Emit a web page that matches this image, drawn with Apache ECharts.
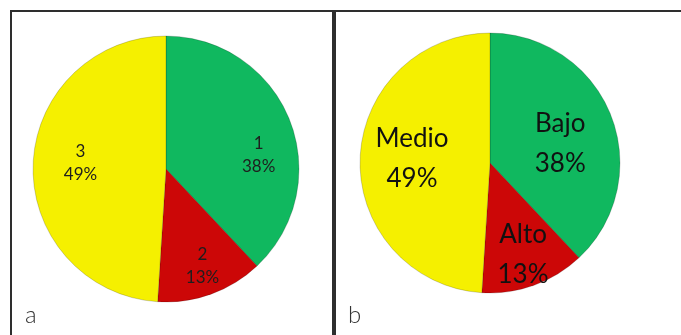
<!DOCTYPE html>
<html>
<head>
<meta charset="utf-8">
<script src="https://cdn.jsdelivr.net/npm/echarts@6/dist/echarts.min.js"></script>
<style>
  html, body { margin: 0; padding: 0; background: #fff; }
  #main { width: 681px; height: 335px; }
</style>
</head>
<body>
<div id="main"></div>
<script>
  // datos
  var namesA = ['1', '2', '3'];
  var namesB = ['Bajo', 'Alto', 'Medio'];
  var shares = [38, 13, 49];
  var colors = ['#10b85f', '#cc0707', '#f5f000'];

  // desplazamiento de las etiquetas respecto a la posición "inside"
  var offsA = [[28, 12], [13, 32], [-16, -4]];
  var offsB = [[7, 6], [10, 28], [-10, -2]];

  function buildData(names) {
    return names.map(function (n, i) {
      return { name: n, value: shares[i], itemStyle: { color: colors[i] } };
    });
  }

  var myChart = echarts.init(document.getElementById('main'), null, { renderer: 'canvas' });

  var option = {
    animation: false,
    backgroundColor: '#fff',
    title: [
      {
        text: 'a', left: 20, top: 298,
        textStyle: { fontFamily: 'Lato', fontWeight: 300, fontSize: 24, color: '#333' }
      },
      {
        text: 'b', left: 343, top: 298,
        textStyle: { fontFamily: 'Lato', fontWeight: 300, fontSize: 24, color: '#333' }
      }
    ],
    graphic: [
      {
        type: 'rect', shape: { x: 11, y: 11, width: 322, height: 340 },
        style: { fill: 'none', stroke: '#2e2e2e', lineWidth: 2 }, z: 10
      },
      {
        type: 'rect', shape: { x: 335, y: 11, width: 360, height: 340 },
        style: { fill: 'none', stroke: '#2e2e2e', lineWidth: 2 }, z: 10
      }
    ],
    series: [
      {
        name: 'a',
        type: 'pie',
        center: [166, 169],
        radius: [0, 133],
        startAngle: 90,
        clockwise: true,
        silent: true,
        itemStyle: { borderColor: 'rgba(0,0,0,0.18)', borderWidth: 1 },
        label: {
          show: true,
          position: 'inside',
          formatter: '{b}\n{c}%',
          fontFamily: 'Lato',
          fontSize: 17,
          lineHeight: 23,
          color: '#1e1e1e'
        },
        labelLayout: function (p) {
          return { dx: offsA[p.dataIndex][0], dy: offsA[p.dataIndex][1] };
        },
        data: buildData(namesA)
      },
      {
        name: 'b',
        type: 'pie',
        center: [490, 163],
        radius: [0, 130],
        startAngle: 90,
        clockwise: true,
        silent: true,
        itemStyle: { borderColor: 'rgba(0,0,0,0.18)', borderWidth: 1 },
        label: {
          show: true,
          position: 'inside',
          formatter: '{b}\n{c}%',
          fontFamily: 'Lato',
          fontSize: 26,
          lineHeight: 40,
          color: '#111'
        },
        labelLayout: function (p) {
          return { dx: offsB[p.dataIndex][0], dy: offsB[p.dataIndex][1] };
        },
        data: buildData(namesB)
      }
    ]
  };

  myChart.setOption(option);
</script>
</body>
</html>
